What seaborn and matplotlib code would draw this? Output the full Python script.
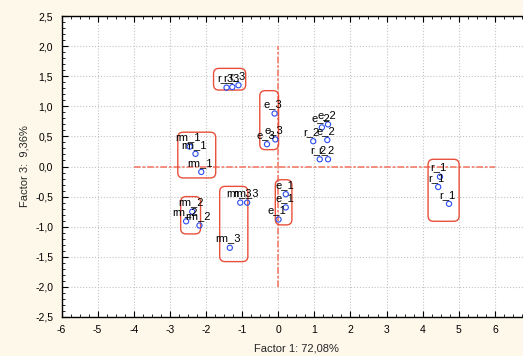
import numpy as np
import pandas as pd
import seaborn as sns
import matplotlib
matplotlib.use('Agg')
import matplotlib.pyplot as plt
from matplotlib.patches import FancyBboxPatch
from matplotlib.ticker import MultipleLocator, FuncFormatter

# point labels and factor scores (Factor 1 vs Factor 3)
labels = ['r_3', 'r_3', 'r_3',
          'e_3', 'e_3', 'e_3',
          'rm_1', 'rm_1', 'rm_1',
          'rm_2', 'rm_2', 'rm_2',
          'rm_3', 'rm_3', 'rm_3',
          'e_1', 'e_1', 'e_1',
          'e_2', 'e_2', 'e_2',
          'r_2', 'r_2', 'r_2',
          'r_1', 'r_1', 'r_1']
fac1 = [-1.43, -1.27, -1.10,
        -0.10, -0.08, -0.31,
        -2.45, -2.29, -2.13,
        -2.55, -2.38, -2.18,
        -1.05, -0.86, -1.34,
        0.21, 0.21, 0.01,
        1.21, 1.38, 1.36,
        0.97, 1.15, 1.38,
        4.48, 4.43, 4.73]
fac3 = [1.31, 1.32, 1.35,
        0.88, 0.45, 0.37,
        0.33, 0.21, -0.09,
        -0.91, -0.75, -0.98,
        -0.60, -0.60, -1.35,
        -0.46, -0.68, -0.88,
        0.65, 0.70, 0.44,
        0.42, 0.12, 0.12,
        -0.17, -0.34, -0.62]

# hand drawn group frames (x0, x1, y0, y1)
box_x0 = [-1.79, -0.51, -2.78, -2.70, -1.62, -0.08, 4.15]
box_x1 = [-0.90, 0.01, -1.73, -2.15, -0.84, 0.38, 5.01]
box_y0 = [1.27, 0.28, -0.19, -1.12, -1.58, -0.97, -0.91]
box_y1 = [1.63, 1.26, 0.57, -0.50, -0.33, -0.22, 0.12]

df = pd.DataFrame({'Factor 1': fac1, 'Factor 3': fac3, 'label': labels})

sns.set_style('white')
plt.rcParams['font.family'] = ['Liberation Sans', 'DejaVu Sans']

fig = plt.figure(figsize=(5.23, 3.56), dpi=100)
fig.patch.set_facecolor('#fdf8ea')
ax = fig.add_axes([61.5/523, 1-317/356, (531-61.5)/523, (317-16)/356])
ax.set_facecolor('white')

sns.scatterplot(data=df, x='Factor 1', y='Factor 3', ax=ax, marker='o', s=14,
                facecolor='none', edgecolor='#2a4cf0', linewidth=0.8, zorder=4)

for i in range(len(df)):
    ax.annotate(df['label'][i], (df['Factor 1'][i], df['Factor 3'][i]),
                xytext=(-1, 3), textcoords='offset points',
                ha='center', va='bottom', fontsize=8, color='black', zorder=5)

# reference lines
ref_col = '#f47c6a'
ax.plot([-4, 6], [0, 0], color=ref_col, lw=1.2, dashes=(4, 1.2, 1.5, 1.2), zorder=2)
ax.plot([0, 0], [-2, 2], color=ref_col, lw=1.2, dashes=(4, 1.2, 1.5, 1.2), zorder=2)

for i in range(len(box_x0)):
    p = FancyBboxPatch((box_x0[i], box_y0[i]), box_x1[i]-box_x0[i], box_y1[i]-box_y0[i],
                       boxstyle='round,pad=0,rounding_size=0.15', mutation_aspect=0.6,
                       fill=False, edgecolor='#e8503a', lw=1.0, zorder=3)
    ax.add_patch(p)

ax.set_xlim(-6, 7)
ax.set_ylim(-2.5, 2.5)
ax.set_xticks(range(-6, 7))
ax.set_yticks(np.arange(-2.5, 2.51, 0.5))
ax.xaxis.set_minor_locator(MultipleLocator(0.25))
ax.yaxis.set_minor_locator(MultipleLocator(0.1))
ax.xaxis.set_major_formatter(FuncFormatter(lambda v, p: '%d' % v))
ax.yaxis.set_major_formatter(FuncFormatter(lambda v, p: ('%.1f' % v).replace('.', ',').replace('-0,0', '0,0')))
ax.tick_params(which='both', direction='in', top=True, bottom=True, left=True, right=False,
               labelsize=7.5, colors='black', pad=6)
ax.tick_params(which='major', length=4, width=0.8)
ax.tick_params(which='minor', length=2, width=0.6)

ax.grid(True, which='major', linestyle=':', color='#c4c4c4', lw=0.8)
ax.set_axisbelow(True)
for s in ax.spines.values():
    s.set_color('black')
    s.set_linewidth(1.0)

ax.set_xlabel('Factor 1: 72,08%', fontsize=8, labelpad=6)
ax.set_ylabel('Factor 3:  9,36%', fontsize=8, labelpad=4)

plt.savefig('out.png', dpi=100, facecolor=fig.get_facecolor())
plt.close()
